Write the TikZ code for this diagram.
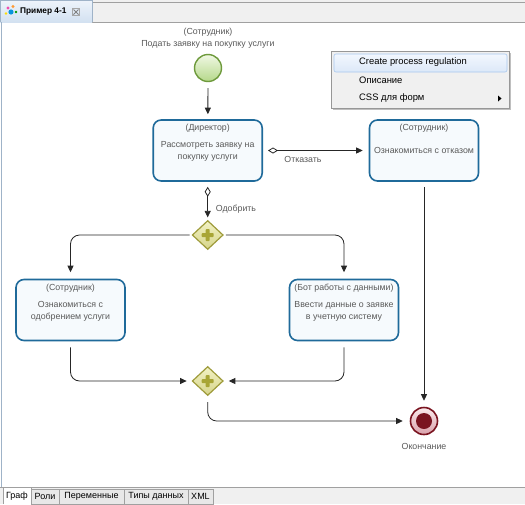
\documentclass[tikz,border=0pt]{standalone}
\usepackage{fontspec}
\setmainfont{Liberation Sans}
\usetikzlibrary{arrows.meta,shapes.geometric}
\definecolor{taskbd}{HTML}{1F6A9A}
\definecolor{taskfill}{HTML}{F6FAFD}
\definecolor{txtgray}{HTML}{5A5A5A}
\definecolor{gwbd}{HTML}{9E9B3A}
\definecolor{gwtop}{HTML}{F2F2C4}
\definecolor{gwbot}{HTML}{D6D48A}
\definecolor{plusc}{HTML}{A8A535}
\definecolor{startbd}{HTML}{6E9A3C}
\definecolor{starttop}{HTML}{F0F8E4}
\definecolor{startbot}{HTML}{B5D88A}
\definecolor{endbd}{HTML}{7A1420}
\definecolor{endtop}{HTML}{FBEAEC}
\definecolor{endbot}{HTML}{D9A0AA}
\definecolor{menubg}{HTML}{F0F0F0}
\definecolor{menubd}{HTML}{979797}
\definecolor{hlbd}{HTML}{A8C8EF}
\definecolor{hltop}{HTML}{F2F7FE}
\definecolor{hlbot}{HTML}{DCE8F8}
\definecolor{framebd}{HTML}{9FB3C8}
\definecolor{barbg}{HTML}{F0F0F0}
\definecolor{tabbg}{HTML}{E8E8E8}
\definecolor{tabbd}{HTML}{A0A0A0}
\definecolor{toptabtop}{HTML}{EEF4FB}
\definecolor{toptabbot}{HTML}{D3E1F1}
\tikzset{
  task/.style={draw=taskbd, line width=1.6pt, rounded corners=8pt, fill=taskfill,
    minimum width=109pt, minimum height=61pt, inner sep=0pt},
  gw/.style={diamond, draw=gwbd, line width=1.2pt, top color=gwtop, bottom color=gwbot,
    minimum width=31pt, minimum height=29pt, inner sep=0pt},
  startev/.style={circle, draw=startbd, line width=1.4pt, top color=starttop, bottom color=startbot,
    minimum size=27pt, inner sep=0pt},
  endev/.style={circle, draw=endbd, line width=1.6pt, top color=endtop, bottom color=endbot,
    minimum size=27pt, inner sep=0pt},
  dtxt/.style={text=txtgray, font=\fontsize{8.8}{12}\selectfont, align=center, inner sep=0pt},
  flow/.style={draw=black!85, line width=0.8pt, -{Triangle[length=6.5pt,width=6pt]}},
  cond/.style={flow, {Diamond[open,length=10pt,width=6pt]}-{Triangle[length=6.5pt,width=6pt]}},
  mtxt/.style={text=black, font=\fontsize{9.4}{11}\selectfont, anchor=west, inner sep=0pt},
  ttxt/.style={text=black, font=\fontsize{9}{11}\selectfont, inner sep=0pt},
  tabbox/.style={draw=tabbd, fill=tabbg, line width=0.6pt},
}
\begin{document}
\begin{tikzpicture}[x=1pt,y=-1pt]
\useasboundingbox (0,0) rectangle (525,504);
\fill[white] (0,0) rectangle (525,504);
% top tab bar
\fill[barbg] (0,0) rectangle (525,22);
\draw[tabbd, line width=0.6pt] (92,2) -- (525,2);
\draw[tabbd, line width=0.6pt] (92,22) -- (525,22);
\shade[top color=toptabtop, bottom color=toptabbot] (0,0) rectangle (92,22);
\draw[framebd, line width=0.8pt] (0.5,22) -- (0.5,0.5) -- (92,0.5) -- (92,22);
\fill[magenta!70] (8,8) circle (1.6pt);
\fill[orange!80] (13,6.5) circle (1.6pt);
\fill[cyan!80!blue] (11,12) circle (2.6pt);
\fill[yellow!80!orange] (6,13.5) circle (1.4pt);
\fill[green!60!black] (16,12) circle (1.3pt);
\node[ttxt, anchor=west, font=\fontsize{8.3}{11}\selectfont\bfseries] (tabname) at (20,12) {Пример 4-1};
\node[draw=gray!70, line width=0.5pt, minimum size=7pt, inner sep=0pt] (closebtn) at (76,12) {};
\draw[gray, line width=0.9pt] (73.5,9.5) -- (78.5,14.5) (78.5,9.5) -- (73.5,14.5);
% canvas frame
\draw[framebd, line width=1pt] (1,22) -- (1,487);

% start event
\node[startev] (start) at (208,68) {};
\node[dtxt] (startlbl) at (208,38) {(Сотрудник)\\Подать заявку на покупку услуги};

% tasks
\node[task] (dir) at (207.7,150.5) {};
\node[dtxt] (dirrole) at (207.7,128.5) {(Директор)};
\node[dtxt] (dirname) at (207.7,151.5) {Рассмотреть заявку на\\покупку услуги};

\node[task] (refuse) at (424,150.5) {};
\node[dtxt] (refrole) at (424,128.5) {(Сотрудник)};
\node[dtxt] (refname) at (424,150.7) {Ознакомиться с отказом};

\node[task] (ok) at (70.5,310) {};
\node[dtxt] (okrole) at (70.5,288.5) {(Сотрудник)};
\node[dtxt] (okname) at (70.5,311) {Ознакомиться с\\одобрением услуги};

\node[task] (bot) at (344,310) {};
\node[dtxt] (botrole) at (344,288.5) {(Бот работы с данными)};
\node[dtxt] (botname) at (344,311) {Ввести данные о заявке\\в учетную систему};

% gateways
\node[gw] (gw1) at (207.7,235) {};
\node[gw] (gw2) at (207.7,381) {};
\foreach \g in {gw1,gw2} {
  \fill[plusc, rounded corners=0.8pt] ([shift={(-6,-2)}]\g.center) rectangle ([shift={(6,2)}]\g.center);
  \fill[plusc, rounded corners=0.8pt] ([shift={(-2,-6)}]\g.center) rectangle ([shift={(2,6)}]\g.center);
}

% end event
\node[endev] (end) at (424,421) {};
\node[circle, fill=endbd, minimum size=16pt, inner sep=0pt] (endcore) at (424,421) {};
\node[dtxt] (endlbl) at (424,446) {Окончание};

% connectors
\draw[flow, shorten <=6pt, shorten >=5pt] (start) -- (dir);
\draw[cond, shorten <=5pt, shorten >=6pt] (dir.east) -- (refuse.west);
\node[dtxt] (reflbl) at (303,159) {Отказать};
\draw[flow, shorten <=5pt, shorten >=6pt] (refuse.south) -- (end.north);
\draw[cond, shorten <=5pt, shorten >=2.5pt] (dir.south) -- (gw1.north);
\node[dtxt] (oklbl) at (236,209) {Одобрить};
\draw[flow, rounded corners=9pt, shorten <=2pt, shorten >=6.5pt] (gw1.west) -| (ok.north);
\draw[flow, rounded corners=9pt, shorten <=2pt, shorten >=6.5pt] (gw1.east) -| (bot.north);
\draw[flow, rounded corners=9pt, shorten <=6pt, shorten >=5pt] (ok.south) |- (gw2.west);
\draw[flow, rounded corners=9pt, shorten <=6pt, shorten >=5pt] (bot.south) |- (gw2.east);
\draw[flow, rounded corners=9pt, shorten <=6pt, shorten >=7pt] (gw2.south) |- (end.west);

% context menu
\fill[black!25] (333,53) rectangle (511,110);
\node[draw=menubd, fill=menubg, line width=0.7pt, minimum width=178pt, minimum height=57pt, inner sep=0pt] (menu) at (420,79.5) {};
\shade[top color=hltop, bottom color=hlbot, rounded corners=2pt] (334,54) rectangle (507,72);
\draw[hlbd, line width=0.6pt, rounded corners=2pt] (334,54) rectangle (507,72);
\node[mtxt] (m1) at (359,62.5) {Create process regulation};
\node[mtxt] (m2) at (359,80.5) {Описание};
\node[mtxt] (m3) at (359,98.5) {CSS для форм};
\fill[black] (498,95.5) -- (501.5,98.5) -- (498,101.5) -- cycle;

% bottom tab bar
\fill[barbg] (0,487) rectangle (525,504);
\draw[tabbd, line width=0.6pt] (0,487) -- (525,487);
\draw[tabbox] (31,489) rectangle (59,504);
\draw[tabbox] (59,489) rectangle (124,504);
\draw[tabbox] (124,489) rectangle (188,504);
\draw[tabbox] (188,489) rectangle (213,504);
\fill[white] (3,487) rectangle (31,504);
\draw[tabbd, line width=0.6pt] (3,504) -- (3,487.3) -- (31,487.3) -- (31,504);
\node[ttxt] (t1) at (17,496.5) {Граф};
\node[ttxt] (t2) at (45,496.5) {Роли};
\node[ttxt] (t3) at (91.5,496.5) {Переменные};
\node[ttxt] (t4) at (156,496.5) {Типы данных};
\node[ttxt] (t5) at (200.5,496.5) {XML};
\end{tikzpicture}
\end{document}
